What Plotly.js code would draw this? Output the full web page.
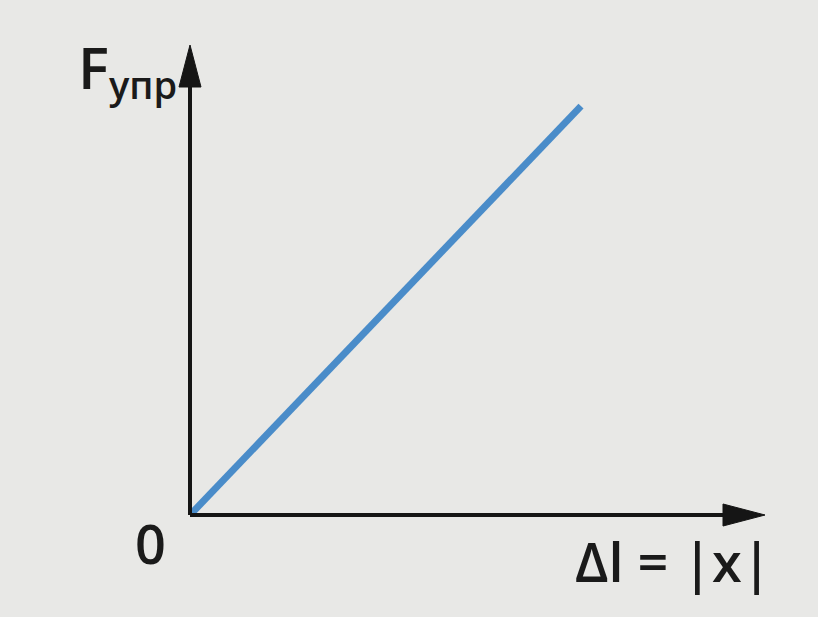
<!DOCTYPE html>
<html>
<head>
<meta charset="utf-8">
<script src="https://cdn.plot.ly/plotly-3.0.1.min.js"></script>
<style>
html,body{margin:0;padding:0;background:#e8e8e6;}
#chart{width:818px;height:617px;}
</style>
</head>
<body>
<div id="chart"></div>
<script>
// Data: linear Hooke's law relation F_упр ~ Δl
const elongation = [0, 6.8];
const elasticForce = [0, 8.7];
const yLabelMain = 'F';
const yLabelSub = 'упр';
const xLabel = 'Δl = |x|';
const originLabel = '0';

const W = 818, H = 617;
const M = {l: 190, r: 53, t: 45, b: 102};
const pw = W - M.l - M.r, ph = H - M.t - M.b;
const px = v => v / pw;   // pixel -> paper (x)
const py = v => v / ph;   // pixel -> paper (y)

const axisColor = '#151515';
const arrowLen = 42, arrowHalf = 11;

const shapes = [
  {type: 'line', xref: 'paper', yref: 'paper', x0: 0, y0: 0, x1: 1 - px(arrowLen - 4), y1: 0,
   line: {color: axisColor, width: 4}},
  {type: 'line', xref: 'paper', yref: 'paper', x0: 0, y0: 0, x1: 0, y1: 1 - py(arrowLen - 4),
   line: {color: axisColor, width: 4}},
  {type: 'path', xref: 'paper', yref: 'paper',
   path: `M 1 0 L ${1 - px(arrowLen)} ${py(arrowHalf)} L ${1 - px(arrowLen)} ${-py(arrowHalf)} Z`,
   fillcolor: axisColor, line: {color: axisColor, width: 1}},
  {type: 'path', xref: 'paper', yref: 'paper',
   path: `M 0 1 L ${px(arrowHalf)} ${1 - py(arrowLen)} L ${-px(arrowHalf)} ${1 - py(arrowLen)} Z`,
   fillcolor: axisColor, line: {color: axisColor, width: 1}}
];

const font = {family: 'Open Sans', color: '#1a1a1a', weight: 600};
const f = size => Object.assign({}, font, {size: size});

const annotations = [
  {text: yLabelMain, xref: 'paper', yref: 'paper', x: px(-97), y: py(449),
   xanchor: 'center', yanchor: 'middle', showarrow: false, font: f(58)},
  {text: yLabelSub, xref: 'paper', yref: 'paper', x: px(-47), y: py(431),
   xanchor: 'center', yanchor: 'middle', showarrow: false, font: f(38)},
  {text: originLabel, xref: 'paper', yref: 'paper', x: px(-40), y: py(-28),
   xanchor: 'center', yanchor: 'middle', showarrow: false, font: f(54)},
  {text: xLabel, xref: 'paper', yref: 'paper', x: px(483), y: py(-46),
   xanchor: 'center', yanchor: 'middle', showarrow: false, font: f(54)}
];

const trace = {
  x: elongation, y: elasticForce, type: 'scatter', mode: 'lines',
  line: {color: '#4a8cc9', width: 7}, hoverinfo: 'skip'
};

const layout = {
  width: W, height: H,
  margin: M,
  paper_bgcolor: '#e8e8e6', plot_bgcolor: 'rgba(0,0,0,0)',
  showlegend: false,
  xaxis: {range: [0, 10], visible: false, fixedrange: true},
  yaxis: {range: [0, 10], visible: false, fixedrange: true},
  shapes: shapes,
  annotations: annotations
};

Plotly.newPlot('chart', [trace], layout, {displayModeBar: false, staticPlot: true});
</script>
</body>
</html>
